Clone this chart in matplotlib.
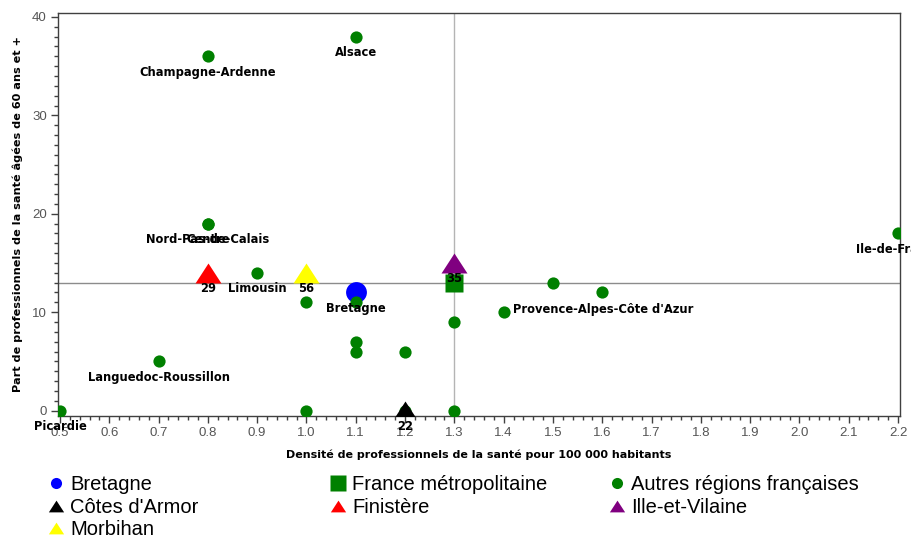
import numpy as np
import matplotlib.pyplot as plt
from matplotlib.lines import Line2D

# autres regions francaises
autres_nom = ["Alsace", "Champagne-Ardenne", "Nord-Pas-de-Calais", "Centre", "Limousin",
              "", "", "Languedoc-Roussillon", "Picardie", "", "", "", "", "", "", "",
              "Provence-Alpes-Côte d'Azur", "", "", "Ile-de-France"]
autres_densite = [1.1, 0.8, 0.8, 0.8, 0.9, 1.0, 1.1, 0.7, 0.5, 1.0,
                  1.1, 1.1, 1.2, 1.2, 1.3, 1.3, 1.4, 1.5, 1.6, 2.2]
autres_part = [38, 36, 19, 19, 14, 11, 11, 5, 0, 0,
               7, 6, 6, 0, 9, 0, 10, 13, 12, 18]

# Bretagne et France metropolitaine
bzh_densite, bzh_part = 1.1, 12
fr_densite, fr_part = 1.3, 13

# departements bretons
dep_nom = ["Côtes d'Armor", "Finistère", "Ille-et-Vilaine", "Morbihan"]
dep_code = ["22", "29", "35", "56"]
dep_densite = [1.2, 0.8, 1.3, 1.0]
dep_part = [0, 14, 15, 14]
dep_couleur = ["black", "#FF0000", "#800080", "#FFFF00"]

VERT = "#008000"
tri = [(-1, -0.77), (1, -0.77), (0, 0.77), (-1, -0.77)]
lab_font = dict(family="DejaVu Sans", weight="bold", size=8.3, color="black")

fig = plt.figure(figsize=(9.12, 5.37), dpi=100)
ax = fig.add_axes([58 / 912, 1 - 416 / 537, 842 / 912, 403 / 537])

ax.axhline(fr_part, color="#8c8c8c", lw=1, zorder=1)
ax.axvline(fr_densite, color="#b4b4b4", lw=1, zorder=1)

ax.plot([bzh_densite], [bzh_part], "o", color="#0000FF", ms=15, mec="none", zorder=2)
ax.plot([fr_densite], [fr_part], "s", color=VERT, ms=13, mec="none", zorder=2)
ax.plot(autres_densite, autres_part, "o", color=VERT, ms=8.8, mec="none", zorder=3)
for i in range(len(dep_nom)):
    ax.plot([dep_densite[i]], [dep_part[i]], marker=tri, ls="none", color=dep_couleur[i],
            ms=18.7, mec="none", zorder=4)

# etiquettes
for nom, x, y in zip(autres_nom, autres_densite, autres_part):
    if nom == "":
        continue
    if nom.startswith("Provence"):
        ax.annotate(nom, (x, y), xytext=(7, 2), textcoords="offset points",
                    ha="left", va="center", zorder=6, annotation_clip=False, **lab_font)
    else:
        ax.annotate(nom, (x, y), xytext=(0, -11.5), textcoords="offset points",
                    ha="center", va="center", zorder=6, annotation_clip=False, **lab_font)
ax.annotate("Bretagne", (bzh_densite, bzh_part), xytext=(0, -11.5), textcoords="offset points",
            ha="center", va="center", zorder=6, **lab_font)
for code, x, y in zip(dep_code, dep_densite, dep_part):
    ax.annotate(code, (x, y), xytext=(0, -11.5), textcoords="offset points",
                ha="center", va="center", zorder=6, annotation_clip=False, **lab_font)

ax.set_xlim(0.496, 2.204)
ax.set_ylim(-0.55, 40.4)
ax.set_xticks(np.arange(0.5, 2.21, 0.1))
ax.set_xticks(np.arange(0.5, 2.21, 0.02), minor=True)
ax.set_yticks([0, 10, 20, 30, 40])
ax.set_yticks(np.arange(0, 41, 1), minor=True)
ax.xaxis.set_major_formatter(plt.FuncFormatter(lambda v, p: "%.1f" % v))
ax.tick_params(which="major", length=5, width=1, color="#404040", labelsize=9.5,
               labelcolor="#555555", pad=3)
ax.tick_params(which="minor", length=3, width=1, color="#404040")
for lab in ax.get_xticklabels() + ax.get_yticklabels():
    lab.set_family("Liberation Sans")
for s in ax.spines.values():
    s.set_color("#404040")
    s.set_linewidth(1)

fig.text(18 / 912, 1 - 214 / 537, "Part de professionnels de la santé âgées de 60 ans et +",
         rotation=90, ha="center", va="center", family="DejaVu Sans", weight="bold", size=8.1)
fig.text(479 / 912, 1 - 455 / 537, "Densité de professionnels de la santé pour 100 000 habitants",
         ha="center", va="center", family="DejaVu Sans", weight="bold", size=8.0)

# legende en trois colonnes
def h(marker, color, ms):
    return Line2D([], [], marker=marker, ls="none", color=color, mec="none", ms=ms)

col1 = [(h("o", "#0000FF", 8), "Bretagne"), (h(tri, "black", 11), "Côtes d'Armor"),
        (h(tri, "#FFFF00", 11), "Morbihan")]
col2 = [(h("s", VERT, 11), "France métropolitaine"), (h(tri, "#FF0000", 11), "Finistère")]
col3 = [(h("o", VERT, 8), "Autres régions françaises"), (h(tri, "#800080", 11), "Ille-et-Vilaine")]
for col, x0 in zip([col1, col2, col3], [48, 330, 609]):
    leg = fig.legend([c[0] for c in col], [c[1] for c in col], loc="upper left",
                     bbox_to_anchor=(x0 / 912, 1 - 475 / 537), frameon=False,
                     handlelength=0.8, handletextpad=0.3, borderpad=0, borderaxespad=0,
                     labelspacing=0.18, prop=dict(family="Liberation Sans", size=14.5))

fig.savefig("out.png", dpi=100)
